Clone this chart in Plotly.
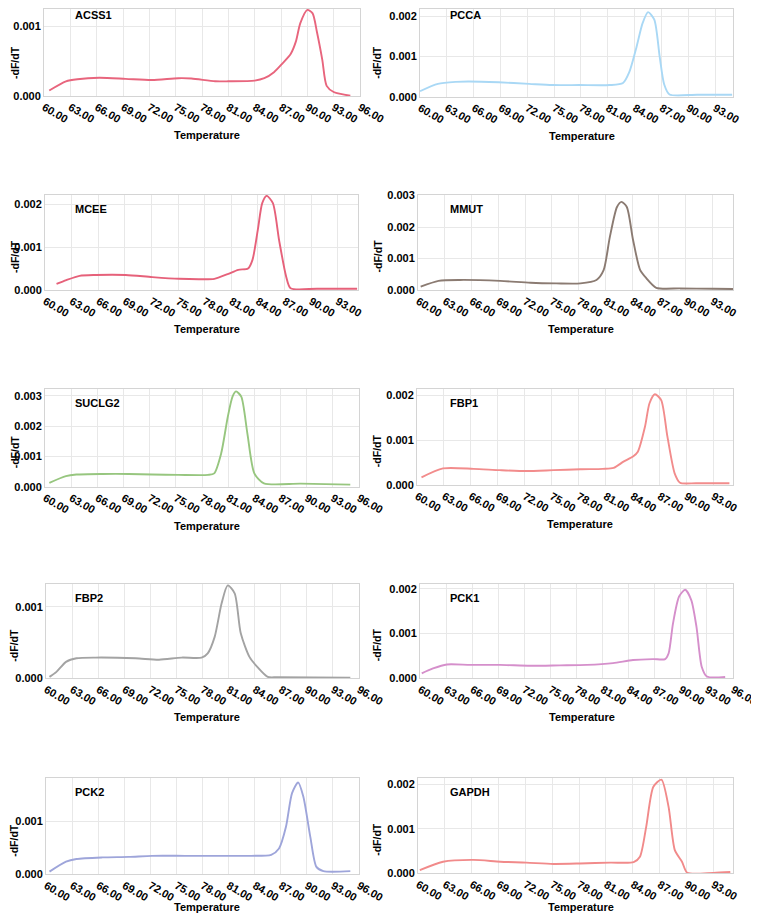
import plotly.graph_objects as go

# melt-curve derivative values
genes = ["ACSS1", "PCCA", "MCEE", "MMUT", "SUCLG2", "FBP1", "FBP2", "PCK1", "PCK2", "GAPDH"]

acss1_temp = [60.6, 62.5, 63.8, 66.3, 69.3, 72.3, 75.3, 76.8, 79.5, 81.0, 84.0, 85.1, 86.2, 87.2,
              88.1, 88.7, 89.2, 90.0, 90.6, 91.1, 91.7, 92.2, 93.0, 94.9]
acss1_dfdt = [0.000079, 0.00021, 0.00024, 0.00026, 0.000245, 0.000228, 0.000254, 0.00025, 0.00021,
              0.00021, 0.00022, 0.000254, 0.00034, 0.00047, 0.0006, 0.00078, 0.00104, 0.00123,
              0.00118, 0.00091, 0.00052, 0.000145, 0.000057, 0.000004]

pcca_temp = [60.0, 62.0, 64.0, 65.4, 68.8, 72.2, 74.8, 77.8, 81.2, 82.7, 83.4, 84.2, 84.9, 85.5,
             86.2, 86.8, 87.3, 87.9, 91.0, 94.9]
pcca_dfdt = [0.000138, 0.00032, 0.00037, 0.00038, 0.00036, 0.00032, 0.00029, 0.00029, 0.00029,
             0.00034, 0.00061, 0.00123, 0.00184, 0.00211, 0.00192, 0.001, 0.00031, 0.000055,
             0.00005, 0.00005]

mcee_temp = [61.3, 62.4, 63.9, 65.7, 69.1, 72.1, 75.1, 77.7, 79.1, 80.6, 81.8, 82.9, 83.4, 84.0,
             84.5, 85.0, 85.7, 86.4, 87.2, 87.7, 90.7, 95.2]
mcee_dfdt = [0.00014, 0.00023, 0.00033, 0.00035, 0.00035, 0.0003, 0.00026, 0.00025, 0.00026,
             0.00037, 0.00047, 0.0005, 0.0007, 0.0014, 0.00202, 0.00219, 0.00202, 0.00116,
             0.00031, 0.00004, 0.00003, 0.00003]

mmut_temp = [60.3, 62.3, 64.7, 69.2, 72.6, 75.5, 78.2, 80.0, 80.8, 81.5, 82.3, 82.8, 83.4, 84.1,
             84.9, 85.6, 86.7, 89.4, 93.1, 95.3]
mmut_dfdt = [0.000105, 0.00029, 0.00032, 0.00029, 0.00023, 0.00021, 0.00021, 0.00032, 0.00063,
             0.00169, 0.00264, 0.0028, 0.00264, 0.00159, 0.00063, 0.00037, 0.00007, 0.00005,
             0.00004, 0.00003]

suclg2_temp = [60.5, 62.4, 63.6, 66.6, 69.6, 72.3, 75.3, 78.7, 79.4, 80.2, 80.96, 81.5, 81.9,
               82.5, 83.2, 84.0, 85.1, 89.3, 95.0]
suclg2_dfdt = [0.00013, 0.00035, 0.0004, 0.00042, 0.00042, 0.0004, 0.00039, 0.00039, 0.00044,
               0.0011, 0.00231, 0.00297, 0.00314, 0.00297, 0.00176, 0.00044, 0.00011, 0.0001,
               0.00007]

fbp1_temp = [60.5, 62.9, 66.3, 69.2, 72.2, 75.2, 78.2, 80.7, 81.9, 83.0, 84.1, 84.6, 85.4, 85.9,
             86.5, 87.2, 87.9, 88.7, 89.3, 91.1, 94.8]
fbp1_dfdt = [0.00017, 0.00037, 0.00036, 0.00033, 0.00031, 0.00033, 0.00035, 0.00036, 0.00038,
             0.00052, 0.00064, 0.00074, 0.0013, 0.00182, 0.00202, 0.00189, 0.00107, 0.00026,
             0.00005, 0.00004, 0.00004]

fbp2_temp = [60.4, 61.2, 62.3, 63.5, 65.7, 70.3, 73.0, 75.6, 77.9, 78.6, 79.4, 80.2, 80.9, 81.7,
             82.4, 83.4, 84.3, 85.5, 86.6, 95.0]
fbp2_dfdt = [0.00002, 0.00009, 0.00023, 0.00028, 0.00029, 0.00028, 0.00026, 0.00029, 0.00029,
             0.00035, 0.00058, 0.00105, 0.0013, 0.00119, 0.00063, 0.0003, 0.00016, 0.00002,
             0.000015, 0.00001]

pck1_temp = [60.2, 61.5, 63.1, 65.8, 69.2, 72.7, 76.1, 79.2, 82.2, 84.5, 86.8, 88.2, 88.6, 89.1,
             89.8, 90.5, 91.2, 91.8, 92.4, 93.0, 95.1]
pck1_dfdt = [0.00011, 0.00022, 0.00031, 0.0003, 0.0003, 0.00028, 0.00029, 0.0003, 0.00034,
             0.00041, 0.00043, 0.00043, 0.00056, 0.00123, 0.00183, 0.00198, 0.00175, 0.00115,
             0.00026, 0.00004, 0.00003]

pck2_temp = [60.4, 62.3, 63.5, 66.5, 69.5, 72.2, 76.0, 79.8, 83.6, 85.9, 86.8, 87.6, 88.3, 89.0,
             89.6, 90.4, 91.1, 91.9, 95.0]
pck2_dfdt = [0.00005, 0.00024, 0.00029, 0.00032, 0.00033, 0.00035, 0.00035, 0.00035, 0.00035,
             0.00037, 0.00049, 0.0009, 0.00154, 0.00174, 0.00147, 0.00071, 0.00014, 0.00006,
             0.00006]

gapdh_temp = [60.2, 62.8, 66.2, 69.2, 72.1, 75.1, 78.1, 81.5, 84.1, 84.8, 85.5, 86.3, 87.2, 88.0,
              88.7, 89.5, 90.1, 93.0, 94.9]
gapdh_dfdt = [0.00007, 0.00026, 0.0003, 0.00026, 0.00024, 0.00021, 0.00022, 0.00024, 0.00025,
              0.00037, 0.00104, 0.00194, 0.0021, 0.00149, 0.00052, 0.00026, 0.00001, 0.00001,
              0.00003]

temp_ticks = [60, 63, 66, 69, 72, 75, 78, 81, 84, 87, 90, 93, 96]

curves = {
    "ACSS1": (acss1_temp, acss1_dfdt),
    "PCCA": (pcca_temp, pcca_dfdt),
    "MCEE": (mcee_temp, mcee_dfdt),
    "MMUT": (mmut_temp, mmut_dfdt),
    "SUCLG2": (suclg2_temp, suclg2_dfdt),
    "FBP1": (fbp1_temp, fbp1_dfdt),
    "FBP2": (fbp2_temp, fbp2_dfdt),
    "PCK1": (pck1_temp, pck1_dfdt),
    "PCK2": (pck2_temp, pck2_dfdt),
    "GAPDH": (gapdh_temp, gapdh_dfdt),
}

colors = {
    "ACSS1": "#e8657d", "PCCA": "#a9d8f5", "MCEE": "#e6617a", "MMUT": "#8b7b72",
    "SUCLG2": "#97c67f", "FBP1": "#f28c8c", "FBP2": "#a3a3a3", "PCK1": "#d58fcb",
    "PCK2": "#9ea5da", "GAPDH": "#f18a8a",
}

# panel boxes in page pixels: left, right, top, bottom, x max, y max
panels = {
    "ACSS1": (44, 360, 1, 96, 96, 0.00125),
    "PCCA": (420, 733, 1, 96.7, 95, 0.0022),
    "MCEE": (45, 358, 195, 290, 95.3, 0.00221),
    "MMUT": (418, 733, 195, 290, 95.3, 0.00302),
    "SUCLG2": (45, 359, 389, 486.7, 96, 0.00322),
    "FBP1": (417, 733, 389.3, 485, 95.2, 0.00213),
    "FBP2": (46, 359, 584, 678.3, 96, 0.00132),
    "PCK1": (420, 733, 584, 678.3, 96, 0.00211),
    "PCK2": (46, 359, 778.3, 874.3, 96, 0.00182),
    "GAPDH": (418, 733, 778.3, 873.3, 95.2, 0.00213),
}

# the html body keeps its default 8px margin, so the figure starts at (8, 8);
# it runs to the right edge of the window, the height stays inside it
OFF = 8
FW, FH = 759 - OFF, 921 - 2 * OFF
FONT = "Liberation Sans, Arial, sans-serif"
FS = 11


def fx(px):
    return (px - OFF) / FW


def fy(py):
    py = min(max(py, OFF + 0.5), OFF + FH - 0.5)
    return 1 - (py - OFF) / FH


fig = go.Figure()
layout = {}
annotations = []
bold = dict(family=FONT, size=FS, color="black", weight="bold")

for i, g in enumerate(genes):
    n = "" if i == 0 else str(i + 1)
    left, right, top, bottom, xmax, ymax = panels[g]
    temp, dfdt = curves[g]
    fig.add_trace(go.Scatter(
        x=temp, y=dfdt, mode="lines", xaxis="x" + n, yaxis="y" + n,
        line=dict(color=colors[g], width=1.9, shape="spline", smoothing=0.7),
        showlegend=False, hoverinfo="skip"))

    layout["xaxis" + n] = dict(
        domain=[fx(left), fx(right)], anchor="y" + n, range=[60, xmax],
        tickvals=temp_ticks, ticktext=[f"{t:.2f}" for t in temp_ticks], tickangle=30,
        tickfont=bold, showgrid=True, gridcolor="#e8e8e8", gridwidth=1,
        showline=True, linecolor="#d4d4d4", linewidth=1, mirror=True,
        zeroline=False, ticks="", automargin=False, ticklabeloverflow="allow",
        fixedrange=True)
    layout["yaxis" + n] = dict(
        domain=[fy(bottom), fy(top)], anchor="x" + n, range=[0, ymax],
        tick0=0, dtick=0.001, tickformat=".3f", tickfont=bold,
        showgrid=True, gridcolor="#e8e8e8", gridwidth=1,
        showline=True, linecolor="#d4d4d4", linewidth=1, mirror=True,
        zeroline=False, ticks="", automargin=False, fixedrange=True)

    is_left = left < 200
    annotations.append(dict(
        text=g, x=fx(73 if is_left else 448), y=fy(top + 14),
        xref="paper", yref="paper", xanchor="left", yanchor="middle",
        showarrow=False, font=bold))
    annotations.append(dict(
        text="-dF/dT", x=fx(14.5 if is_left else 377), y=fy((top + bottom) / 2 + 14),
        xref="paper", yref="paper", xanchor="center", yanchor="middle",
        textangle=-90, showarrow=False, borderpad=0,
        font=dict(family=FONT, size=10.5, color="black", weight="bold")))
    annotations.append(dict(
        text="Temperature", x=fx((left + right) / 2 + 5), y=fy(min(bottom + 39, 907)),
        xref="paper", yref="paper", xanchor="center", yanchor="middle",
        showarrow=False, font=bold))

fig.update_layout(
    width=FW, height=FH, margin=dict(l=0, r=0, t=0, b=0),
    paper_bgcolor="white", plot_bgcolor="white",
    annotations=annotations, **layout)

fig.write_html("out.html")
